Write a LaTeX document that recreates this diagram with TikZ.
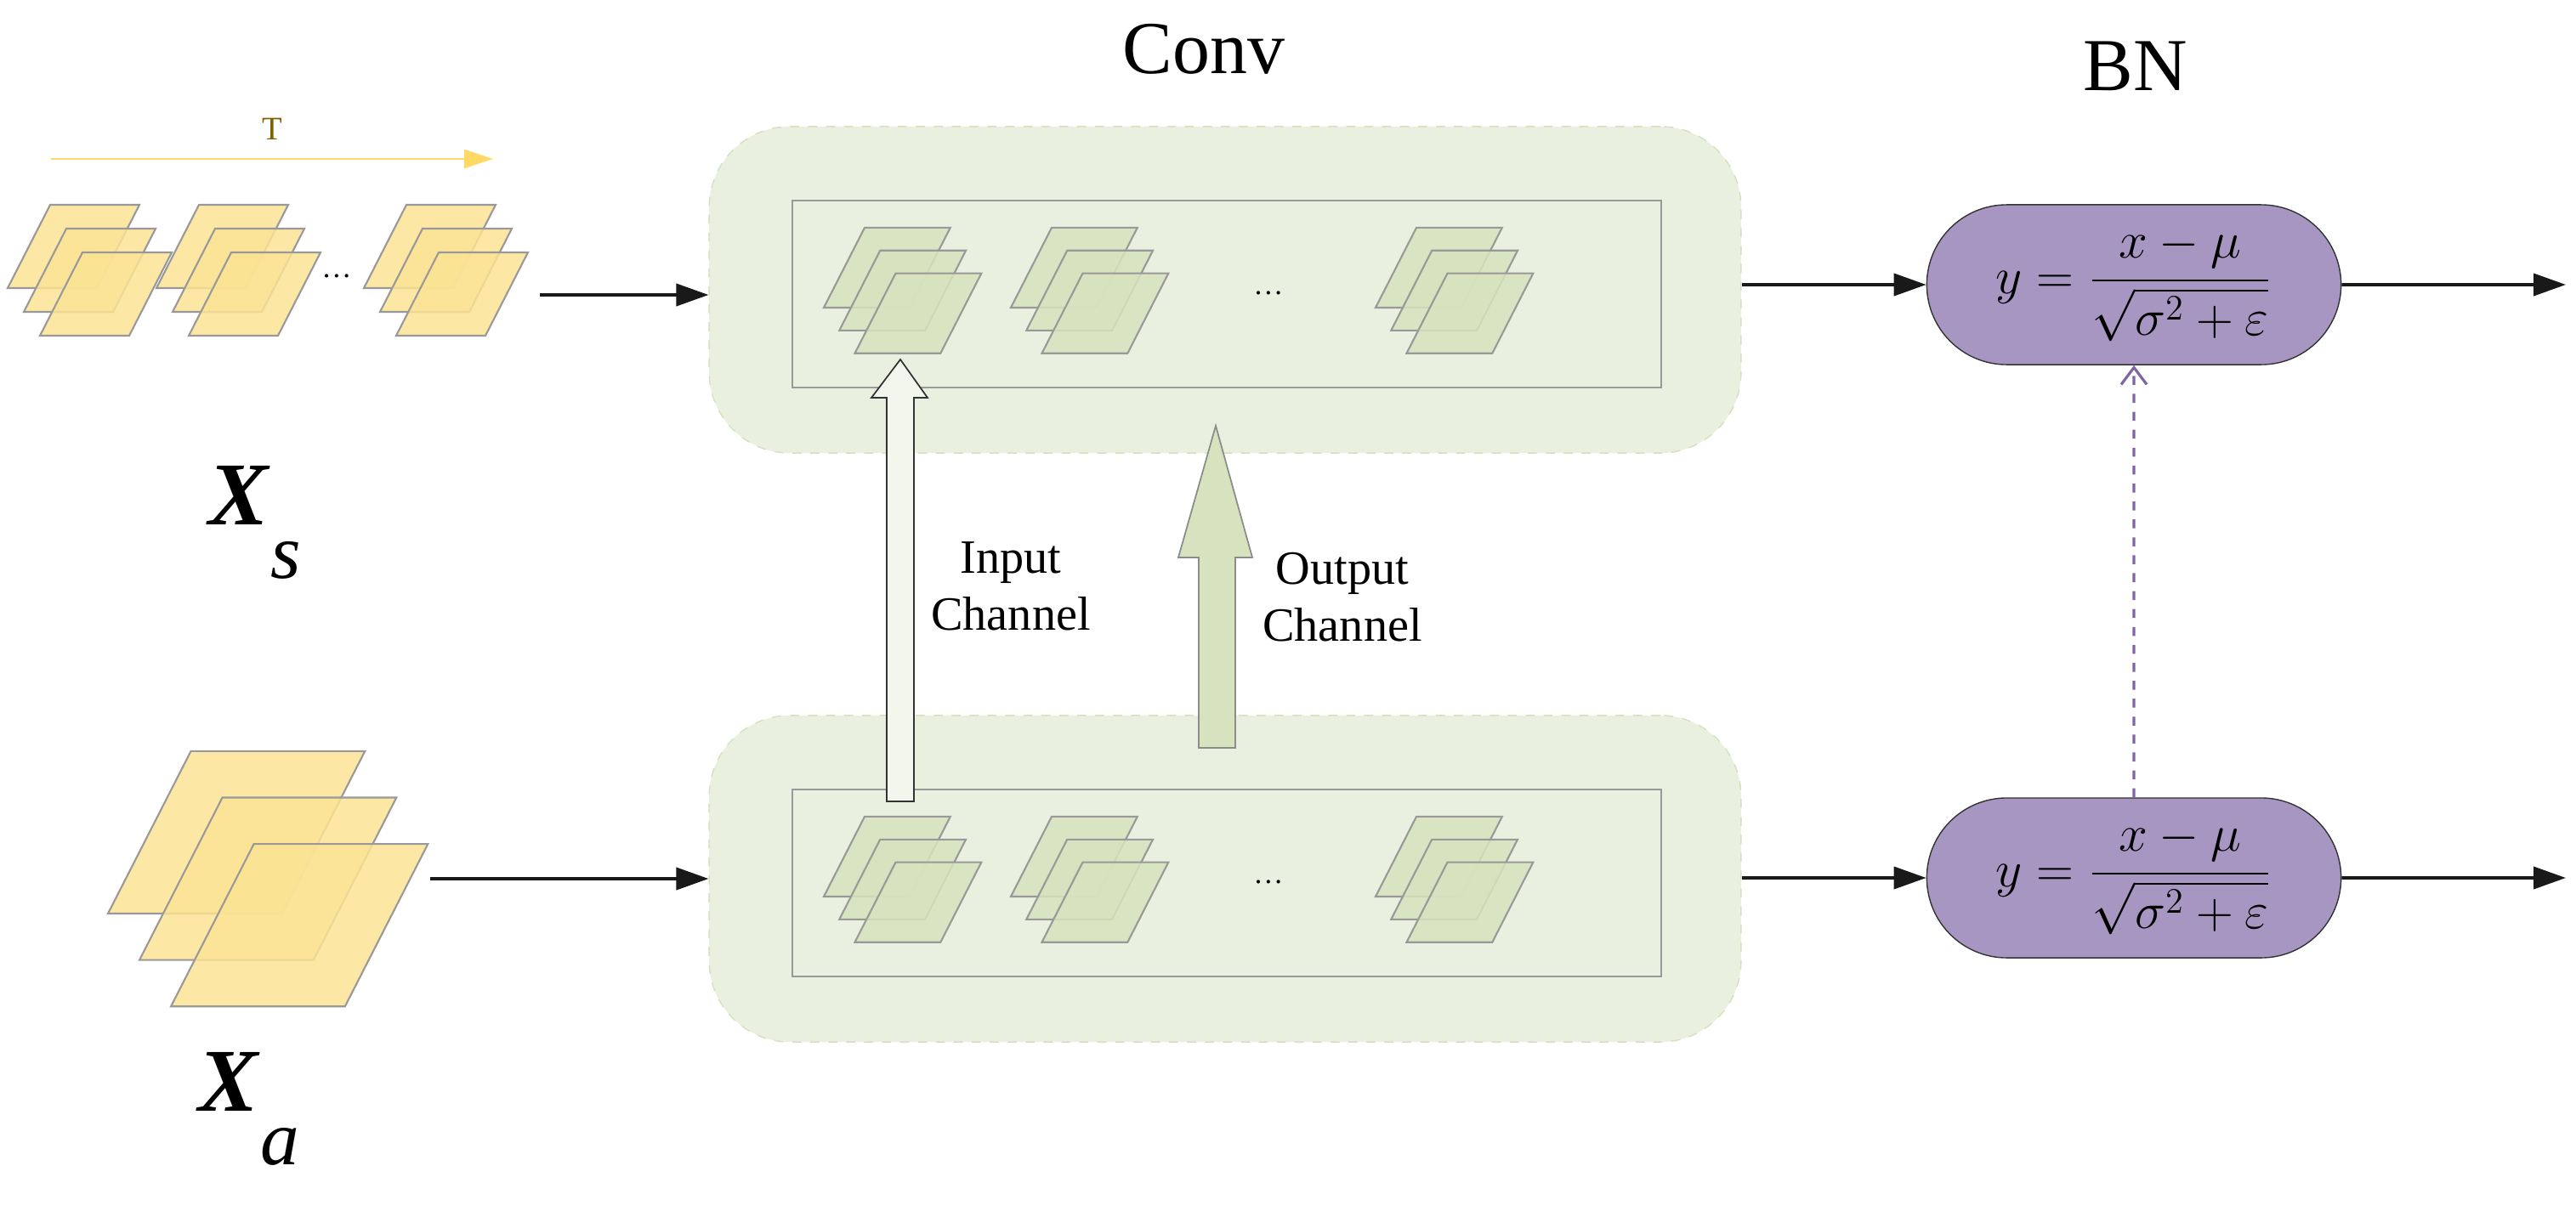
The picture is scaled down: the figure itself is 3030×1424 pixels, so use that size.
\documentclass[tikz,border=0pt]{standalone}
\usepackage{amsmath}
\usepackage{fontspec}
\setmainfont{Liberation Serif}
\usetikzlibrary{arrows.meta,shapes.misc,positioning}
\definecolor{tyellow}{HTML}{FFD966}
\definecolor{tbrown}{HTML}{7F6000}
\definecolor{platey}{HTML}{FBE394}
\definecolor{plateg}{HTML}{D7E3BE}
\definecolor{convbg}{HTML}{E9F0DF}
\definecolor{convline}{HTML}{D3E2BC}
\definecolor{bnfill}{HTML}{A696C1}
\definecolor{bnline}{HTML}{7F65A3}
\tikzset{
  plate/.style={draw=gray!80, line width=0.6pt, fill opacity=0.85},
  convbox/.style={draw=convline, dashed, fill=convbg, rounded corners=0.95cm,
    minimum width=12.13cm, minimum height=3.84cm},
  bnbox/.style={rounded rectangle, draw=black!80, fill=bnfill,
    minimum width=4.87cm, minimum height=1.88cm, inner sep=0pt},
  flow/.style={-{Triangle[length=0.38cm,width=0.26cm]}, line width=1.1pt, black!90},
}
% a stack of three sheets, (#1,#2) is the lower left corner of the first one
\newcommand{\layerstack}[4]{%
  \begin{scope}[shift={(#1,#2)},scale=#3]
    \foreach \i in {0,1,2}
      \draw[plate,fill=#4] (19*\i,28*\i) -- ++(105,0) -- ++(50,-98) -- ++(-105,0) -- cycle;
  \end{scope}}
\begin{document}
\begin{tikzpicture}[x=0.01cm,y=-0.01cm]
  \useasboundingbox (0,0) rectangle (3030,1424);
  % titles
  \node[font=\fontsize{25}{30}\selectfont] (conv) at (1416,58) {Conv};
  \node[font=\fontsize{25}{30}\selectfont] (bn) at (2512,78) {BN};
  % time axis
  \coordinate (t0) at (60,187);
  \coordinate (t1) at (580,187);
  \draw[tyellow, line width=0.7pt, -{Triangle[length=0.34cm,width=0.22cm]}] (t0) -- (t1);
  \node[tbrown, font=\fontsize{11}{13}\selectfont] (tlab) at (320,152) {T};
  % inputs
  \layerstack{9}{339}{1}{platey}
  \layerstack{184}{339}{1}{platey}
  \layerstack{428}{339}{1}{platey}
  \node (xsdots) at (396,325) {\dots};
  \layerstack{127}{1075}{1.95}{platey}
  \node[font=\fontsize{30}{36}\selectfont] (xs) at (300,615)
    {\textbf{\textit{X}}\raisebox{-0.6em}{\fontsize{26}{30}\selectfont\textit{s}}};
  \node[font=\fontsize{30}{36}\selectfont] (xa) at (293,1305)
    {\textbf{\textit{X}}\raisebox{-0.6em}{\fontsize{26}{30}\selectfont\textit{a}}};
  % the two conv blocks
  \node[convbox] (convS) at (1441,341) {};
  \node[convbox] (convA) at (1441,1034) {};
  \foreach \y/\n in {0/S,693/A}{
    \draw[gray!80, line width=0.7pt] (932,236+\y) rectangle (1954,456+\y);
    \layerstack{969}{362+\y}{0.96}{plateg}
    \layerstack{1189}{362+\y}{0.96}{plateg}
    \layerstack{1618}{362+\y}{0.96}{plateg}
    \node at (1492,345+\y) {\dots};
  }
  % channel arrows
  \draw[black!80, line width=0.5pt, fill=convbg!60!white]
    (1043,943) -- (1043,468) -- (1025,468) -- (1059,423) -- (1091,468) -- (1075,468) -- (1075,943) -- cycle;
  \draw[gray!90, line width=0.5pt, fill=plateg]
    (1410,880) -- (1410,656) -- (1386,656) -- (1430,501) -- (1473,656) -- (1453,656) -- (1453,880) -- cycle;
  \node[font=\fontsize{16}{19}\selectfont, align=center] (inch) at (1189,690) {Input\\Channel};
  \node[font=\fontsize{16}{19}\selectfont, align=center] (outch) at (1579,703) {Output\\Channel};
  % batch norm
  \node[bnbox] (bnS) at (2510,335) {\fontsize{17}{20}\selectfont$y=\dfrac{x-\mu}{\sqrt{\sigma^2+\varepsilon}}$};
  \node[bnbox] (bnA) at (2510,1033) {\fontsize{17}{20}\selectfont$y=\dfrac{x-\mu}{\sqrt{\sigma^2+\varepsilon}}$};
  % connections
  \coordinate (xsout) at (635,347);
  \coordinate (xaout) at (506,1034);
  \coordinate (endS) at (3018,335);
  \coordinate (endA) at (3018,1033);
  \draw[flow] (xsout) -- (convS.west |- xsout);
  \draw[flow] (xaout) -- (convA.west |- xaout);
  \draw[flow] (convS.east |- bnS) -- (bnS);
  \draw[flow] (convA.east |- bnA) -- (bnA);
  \draw[flow] (bnS) -- (endS);
  \draw[flow] (bnA) -- (endA);
  \draw[bnline, dashed, line width=0.9pt, -{Straight Barb[length=0.2cm,width=0.3cm]}] (bnA) -- (bnS);
\end{tikzpicture}
\end{document}
